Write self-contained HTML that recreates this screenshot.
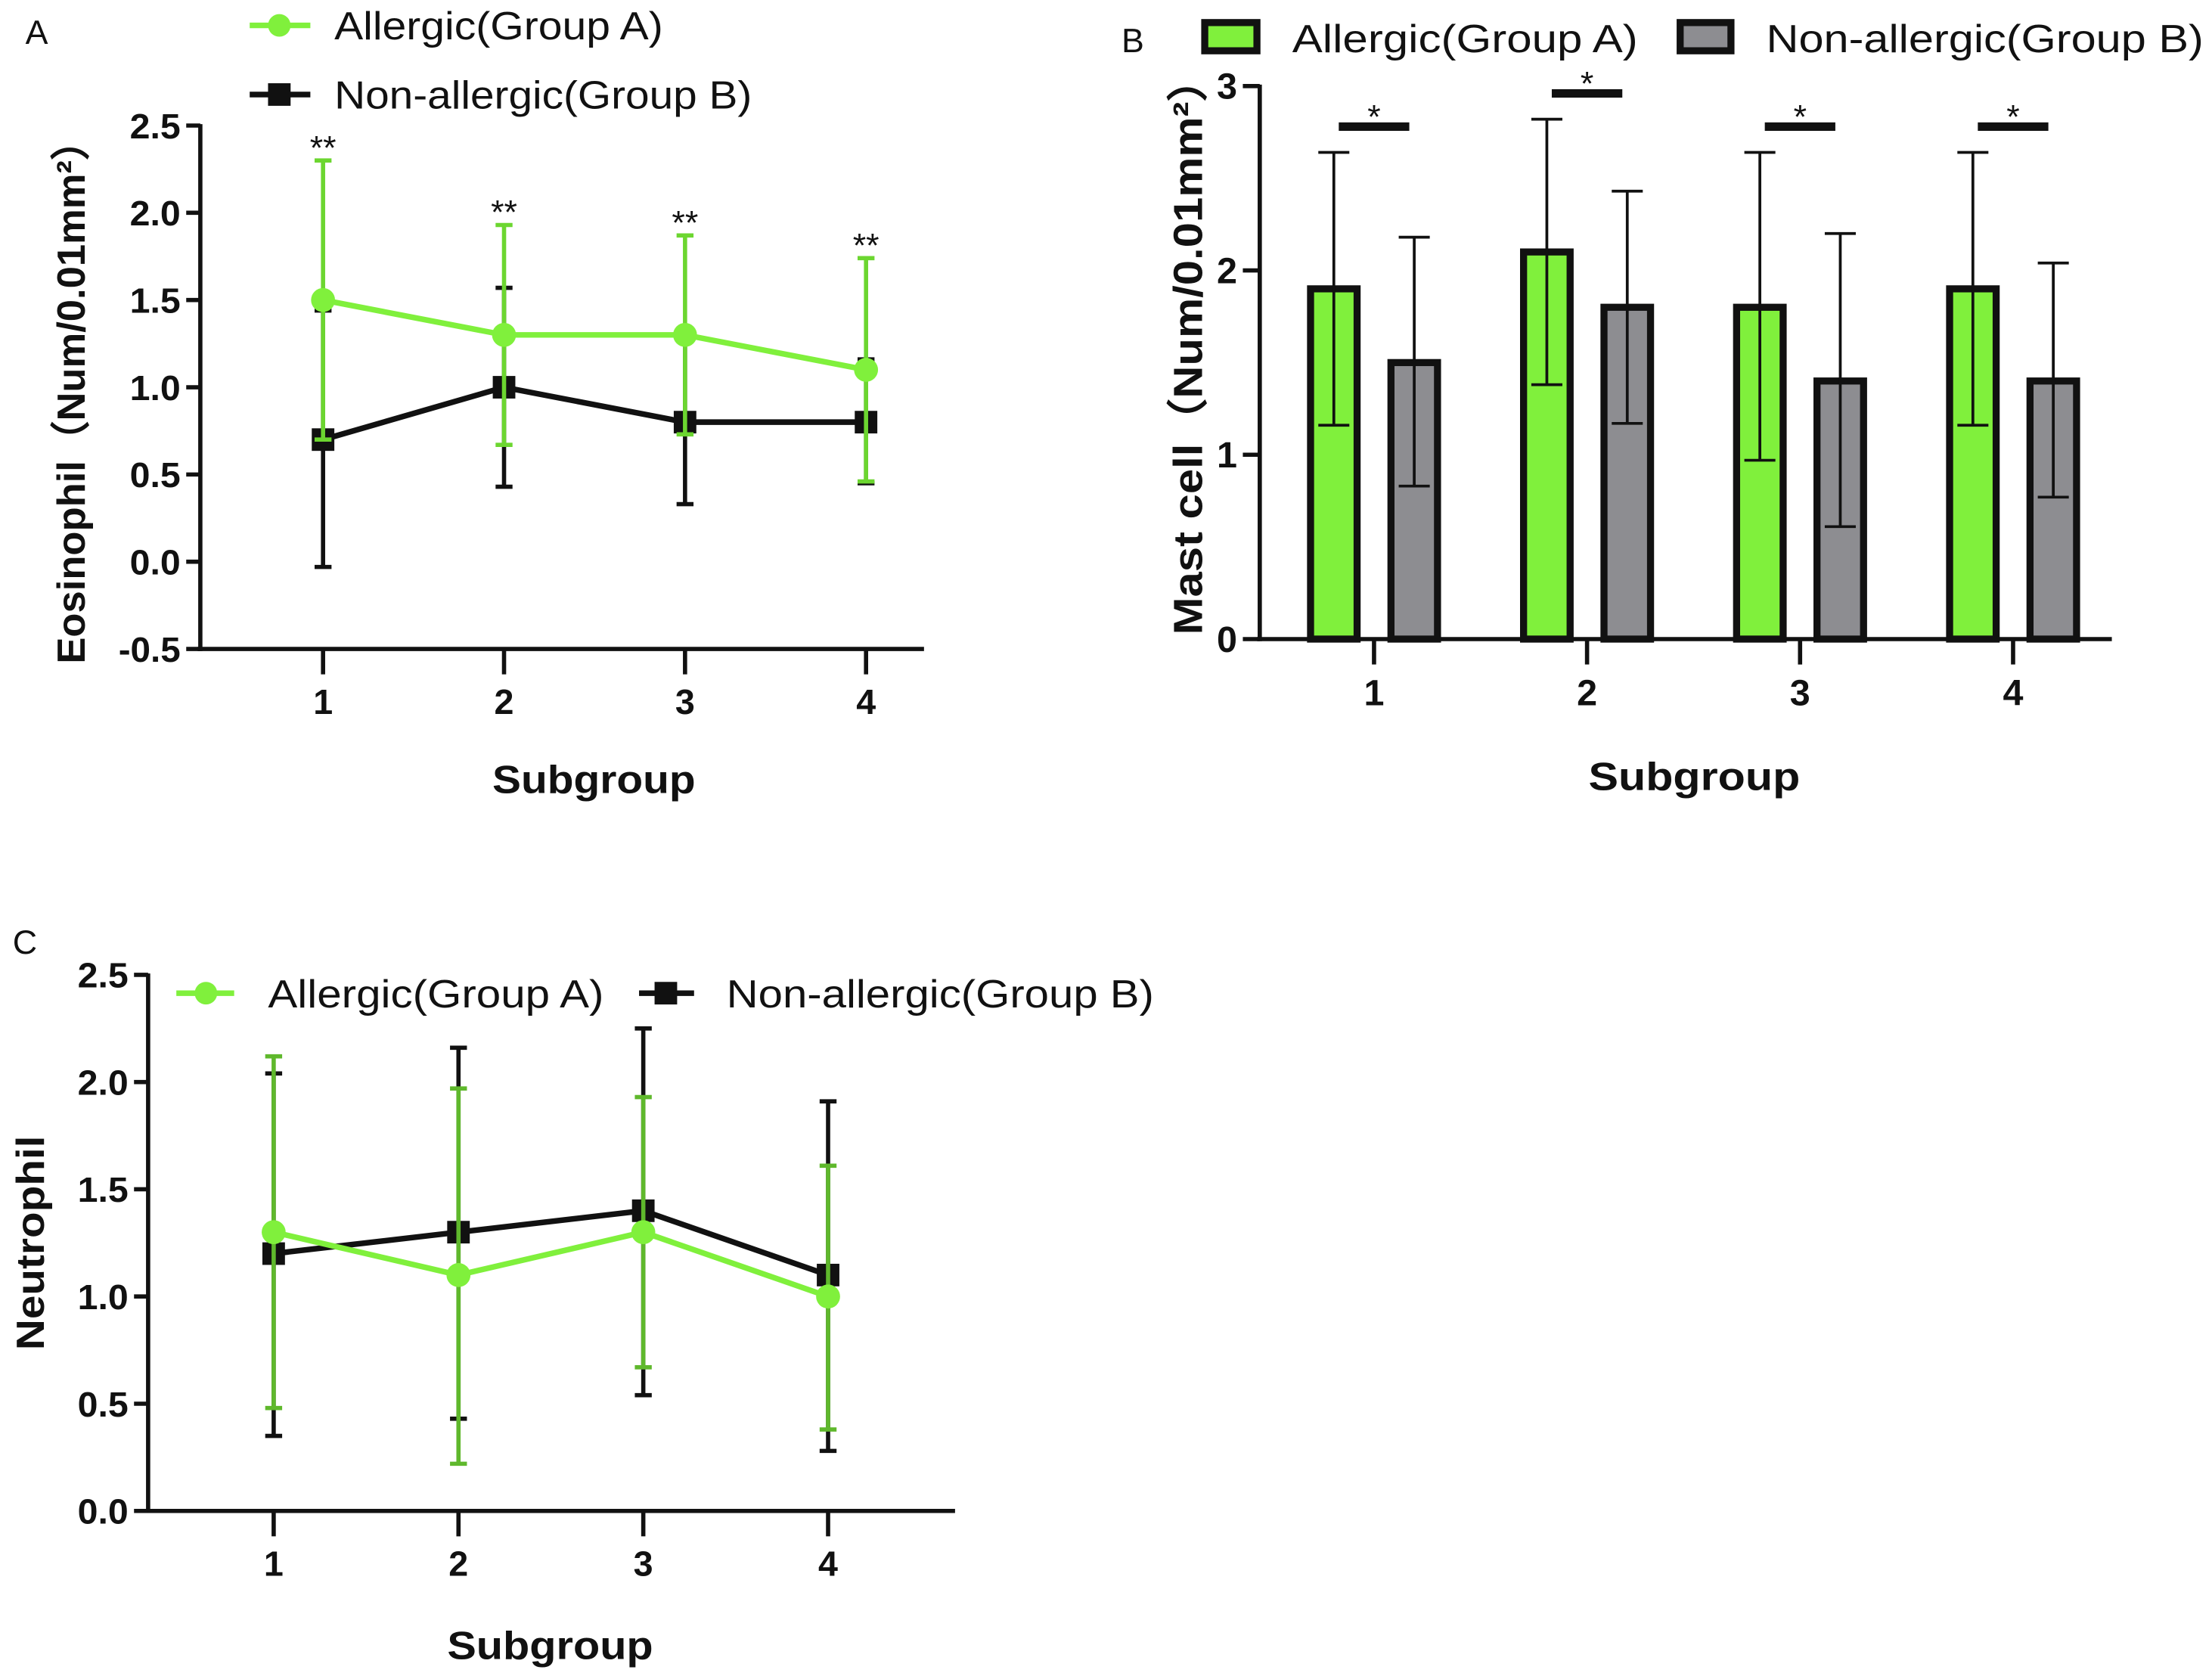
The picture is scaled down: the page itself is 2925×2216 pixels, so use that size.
<!DOCTYPE html>
<html><head><meta charset="utf-8"><style>
html,body{margin:0;padding:0;background:#fff}
svg{display:block}
text{font-family:"Liberation Sans",Arial,sans-serif;fill:#111}
</style></head><body>
<svg id="fig" width="2925" height="2216" viewBox="0 0 1568 1188" preserveAspectRatio="none" xmlns="http://www.w3.org/2000/svg">
<g id="pa"></g>
<g id="pb"></g>
<g id="pc"></g>
</svg>
<script>
// Panel A data
const aCats = [1,2,3,4];
const aGreen = [1.5,1.3,1.3,1.1];
const aGreenHi = [2.3,1.93,1.87,1.74];
const aGreenLo = [0.7,0.67,0.73,0.46];
const aBlack = [0.7,1.0,0.8,0.8];
const aBlackHi = [1.44,1.57,1.27,1.16];
const aBlackLo = [-0.03,0.43,0.33,0.45];
const aTicks = ["-0.5","0.0","0.5","1.0","1.5","2.0","2.5"];
const aSig = ["**","**","**","**"];
// Panel B data
const bCats = [1,2,3,4];
const bGreen = [1.9,2.1,1.8,1.9];
const bGreenHi = [2.64,2.82,2.64,2.64];
const bGreenLo = [1.16,1.38,0.97,1.16];
const bGray = [1.5,1.8,1.4,1.4];
const bGrayHi = [2.18,2.43,2.2,2.04];
const bGrayLo = [0.83,1.17,0.61,0.77];
const bSigY = [2.78,2.96,2.78,2.78];
const bTicks = ["0","1","2","3"];
// Panel C data
const cCats = [1,2,3,4];
const cGreen = [1.3,1.1,1.3,1.0];
const cGreenHi = [2.12,1.97,1.93,1.61];
const cGreenLo = [0.48,0.22,0.67,0.38];
const cBlack = [1.2,1.3,1.4,1.1];
const cBlackHi = [2.04,2.16,2.25,1.91];
const cBlackLo = [0.35,0.43,0.54,0.28];
const cTicks = ["0.0","0.5","1.0","1.5","2.0","2.5"];

const NS="http://www.w3.org/2000/svg";
const GREEN="#80f03c";
function mk(parent,tag,attrs){const e=document.createElementNS(NS,tag);for(const k in attrs)e.setAttribute(k,attrs[k]);parent.appendChild(e);return e;}
function txt(parent,x,y,s,size,opts){const t=mk(parent,"text",Object.assign({x:x,y:y,"font-size":size},opts||{}));t.textContent=s;return t;}

function linePanel(g,cfg){
  const {x0,x1,yTop,yBot,vmin,vmax,xs,ticks}=cfg;
  const Y=v=>yBot-(v-vmin)/(vmax-vmin)*(yBot-yTop);
  const X=i=>xs[0]+i*(xs[1]-xs[0]);
  const ax=mk(g,"g",{});
  
  
  mk(ax,"line",{x1:x0,y1:yTop-1,x2:x0,y2:yBot+1.5,stroke:"#111","stroke-width":3});
  mk(ax,"line",{x1:x0-2,y1:yBot,x2:x1,y2:yBot,stroke:"#111","stroke-width":3});
  ticks.forEach(tl=>{const v=parseFloat(tl);const y=Y(v);
    mk(ax,"line",{x1:x0-10,y1:y,x2:x0,y2:y,stroke:"#111","stroke-width":3});
    const t=txt(ax,x0-14,y+9,tl,25,{"text-anchor":"end","font-weight":"bold",textLength:tl.length>3?44:36,lengthAdjust:"spacingAndGlyphs"});
    
    
  });
  cfg.cats.forEach((c,i)=>{const x=X(i);
    mk(ax,"line",{x1:x,y1:yBot,x2:x,y2:yBot+18,stroke:"#111","stroke-width":3});
    const t=txt(ax,x,yBot+46,String(c),25,{"text-anchor":"middle","font-weight":"bold"});
    
    
  });
  function series(vals,hi,lo,color,errColor,shape,name){
    const sg=mk(g,"g",{});
    
    
    vals.forEach((v,i)=>{const x=X(i);
      const eb=mk(sg,"path",{d:`M${x},${Y(hi[i])}V${Y(lo[i])}M${x-6},${Y(hi[i])}h12M${x-6},${Y(lo[i])}h12`,stroke:errColor,"stroke-width":3,fill:"none"});
      
      
    });
    const pts=vals.map((v,i)=>X(i)+","+Y(v)).join(" ");
    mk(sg,"polyline",{points:pts,fill:"none",stroke:color,"stroke-width":4});
    vals.forEach((v,i)=>{const x=X(i),y=Y(v);let m;
      if(shape==="circle")m=mk(sg,"circle",{cx:x,cy:y,r:8.5,fill:color});
      else m=mk(sg,"rect",{x:x-8,y:y-8,width:16,height:16,fill:color});
      
      
    });
  }
  series(cfg.black,cfg.blackHi,cfg.blackLo,"#111","#111","square","series-non-allergic");
  series(cfg.green,cfg.greenHi,cfg.greenLo,GREEN,cfg.greenErr||GREEN,"circle","series-allergic");
  return {X,Y};
}

// Panel A
const pa=document.getElementById("pa");
const A=linePanel(pa,{x0:142,x1:655,yTop:89,yBot:460,vmin:-0.5,vmax:2.5,xs:[229,357.3],ticks:aTicks,cats:aCats,
  green:aGreen,greenHi:aGreenHi,greenLo:aGreenLo,black:aBlack,blackHi:aBlackHi,blackLo:aBlackLo,greenErr:"#6cd630"});
aSig.forEach((s,i)=>{const t=txt(pa,A.X(i),A.Y(aGreenHi[i])-1,s,24,{"text-anchor":"middle"});
  
  });
let t;
t=txt(pa,18,31,"A",24,{});
t=txt(pa,0,0,"Eosinophil（Num/0.01mm²）",28,{"font-weight":"bold","text-anchor":"middle",textLength:385,lengthAdjust:"spacingAndGlyphs",transform:"translate(60,278) rotate(-90)"});

t=txt(pa,421,562,"Subgroup",28,{"font-weight":"bold","text-anchor":"middle",textLength:144,lengthAdjust:"spacingAndGlyphs"});

let lg=mk(pa,"g",{});
let le=mk(lg,"g",{});
mk(le,"line",{x1:177,y1:18,x2:220,y2:18,stroke:GREEN,"stroke-width":4});mk(le,"circle",{cx:198,cy:18,r:8,fill:GREEN});
txt(le,237,28,"Allergic(Group A)",28,{textLength:233,lengthAdjust:"spacingAndGlyphs"});
le=mk(lg,"g",{});
mk(le,"line",{x1:177,y1:67,x2:220,y2:67,stroke:"#111","stroke-width":4});mk(le,"rect",{x:190,y:59,width:16,height:16,fill:"#111"});
txt(le,237,77,"Non-allergic(Group B)",28,{textLength:296,lengthAdjust:"spacingAndGlyphs"});

// Panel B
const pb=document.getElementById("pb");
(function(){
  const x0=893,x1=1497,yTop=61,yBot=453,vmax=3;
  const Y=v=>yBot-v/vmax*(yBot-yTop);
  const X=i=>974+i*151;
  const bw=33, off=28.5;
  const ax=mk(pb,"g",{});
  mk(ax,"line",{x1:x0,y1:yTop-1,x2:x0,y2:yBot+1.5,stroke:"#111","stroke-width":3});
  mk(ax,"line",{x1:x0-2,y1:yBot,x2:x1,y2:yBot,stroke:"#111","stroke-width":3});
  bTicks.forEach(tl=>{const y=Y(parseFloat(tl));
    mk(ax,"line",{x1:x0-12,y1:y,x2:x0,y2:y,stroke:"#111","stroke-width":3});
    const t=txt(ax,x0-16,y+9,tl,26,{"text-anchor":"end","font-weight":"bold"});
    });
  bCats.forEach((c,i)=>{const x=X(i);
    mk(ax,"line",{x1:x,y1:yBot,x2:x,y2:yBot+18,stroke:"#111","stroke-width":3});
    const t=txt(ax,x,yBot+47,String(c),26,{"text-anchor":"middle","font-weight":"bold"});
    });
  function bars(vals,hi,lo,fill,dx,name){
    const sg=mk(pb,"g",{});
    vals.forEach((v,i)=>{const cx=X(i)+dx;
      const r=mk(sg,"rect",{x:cx-bw/2,y:Y(v),width:bw,height:yBot-Y(v),fill:fill,stroke:"#111","stroke-width":5});
      
      const eb=mk(sg,"path",{d:`M${cx},${Y(hi[i])}V${Y(lo[i])}M${cx-11},${Y(hi[i])}h22M${cx-11},${Y(lo[i])}h22`,stroke:"#111","stroke-width":2,fill:"none"});
      });
  }
  bars(bGreen,bGreenHi,bGreenLo,GREEN,-off,"series-allergic");
  bars(bGray,bGrayHi,bGrayLo,"#8d8d91",off,"series-non-allergic");
  bSigY.forEach((v,i)=>{const g=mk(pb,"g",{});
    mk(g,"rect",{x:X(i)-25,y:Y(v)-3,width:50,height:6,fill:"#111"});
    txt(g,X(i),Y(v)+1,"*",24,{"text-anchor":"middle"});});
  let t=txt(pb,795,37,"B",24,{});
  t=txt(pb,0,0,"Mast cell（Num/0.01mm²）",29,{"font-weight":"bold","text-anchor":"middle",textLength:410,lengthAdjust:"spacingAndGlyphs",transform:"translate(852,245) rotate(-90)"});
  
  t=txt(pb,1201,560,"Subgroup",28,{"font-weight":"bold","text-anchor":"middle",textLength:150,lengthAdjust:"spacingAndGlyphs"});
  
  const lg=mk(pb,"g",{});
  let le=mk(lg,"g",{});
  mk(le,"rect",{x:854,y:16,width:37,height:20,fill:GREEN,stroke:"#111","stroke-width":5});
  txt(le,916,37,"Allergic(Group A)",28,{textLength:245,lengthAdjust:"spacingAndGlyphs"});
  le=mk(lg,"g",{});
  mk(le,"rect",{x:1191,y:16,width:36,height:20,fill:"#8d8d91",stroke:"#111","stroke-width":5});
  txt(le,1252,37,"Non-allergic(Group B)",28,{textLength:310,lengthAdjust:"spacingAndGlyphs"});
})();

// Panel C
const pc=document.getElementById("pc");
linePanel(pc,{x0:105,x1:677,yTop:691,yBot:1071,vmin:0,vmax:2.5,xs:[194,325],ticks:cTicks,cats:cCats,
  green:cGreen,greenHi:cGreenHi,greenLo:cGreenLo,black:cBlack,blackHi:cBlackHi,blackLo:cBlackLo,greenErr:"#5fb82c"});
t=txt(pc,9,676,"C",24,{});
t=txt(pc,0,0,"Neutrophil",28,{"font-weight":"bold","text-anchor":"middle",textLength:152,lengthAdjust:"spacingAndGlyphs",transform:"translate(31,881) rotate(-90)"});

t=txt(pc,390,1176,"Subgroup",28,{"font-weight":"bold","text-anchor":"middle",textLength:146,lengthAdjust:"spacingAndGlyphs"});

lg=mk(pc,"g",{});
le=mk(lg,"g",{});
mk(le,"line",{x1:125,y1:704,x2:166,y2:704,stroke:GREEN,"stroke-width":4});mk(le,"circle",{cx:146,cy:704,r:8,fill:GREEN});
txt(le,190,714,"Allergic(Group A)",28,{textLength:238,lengthAdjust:"spacingAndGlyphs"});
le=mk(lg,"g",{});
mk(le,"line",{x1:453,y1:704,x2:492,y2:704,stroke:"#111","stroke-width":4});mk(le,"rect",{x:464,y:696,width:16,height:16,fill:"#111"});
txt(le,515,714,"Non-allergic(Group B)",28,{textLength:303,lengthAdjust:"spacingAndGlyphs"});
</script>
</body></html>
